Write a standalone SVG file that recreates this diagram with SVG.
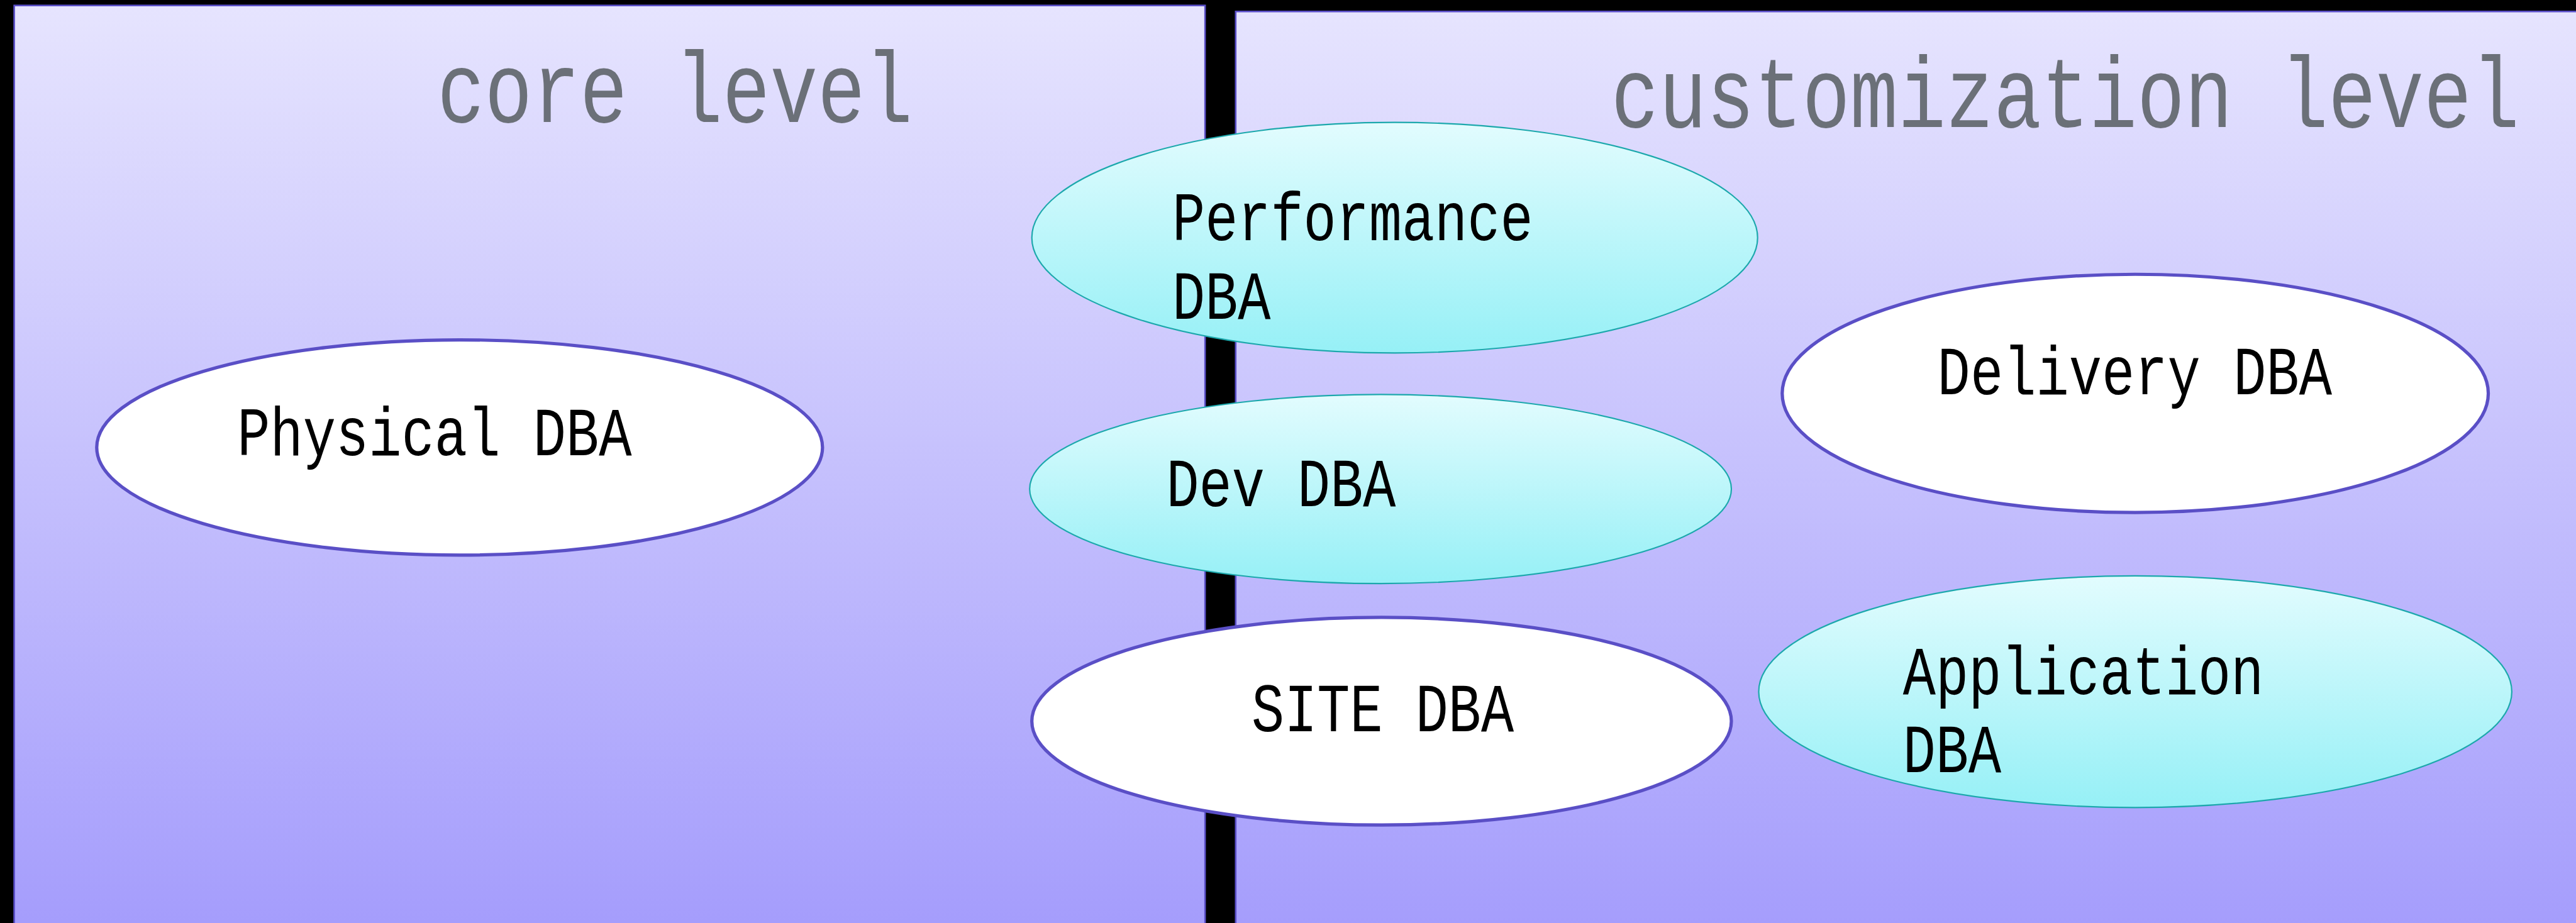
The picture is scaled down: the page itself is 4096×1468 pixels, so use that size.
<svg xmlns="http://www.w3.org/2000/svg" width="4096" height="1468" viewBox="0 0 4096 1468">
<style>
.panel{stroke:#5a4fc8;stroke-width:3;fill:url(#panelGrad)}
.white{fill:#ffffff;stroke:#5a4fc6;stroke-width:6}
.cyan{fill:url(#cyanGrad);stroke:#1ca8ac;stroke-width:2.5}
.title{font-family:"Liberation Mono",monospace;font-size:184px;fill:#6b7078}
.label{font-family:"Liberation Mono",monospace;font-size:126px;fill:#000000}
</style>
<defs>
<linearGradient id="panelGrad" x1="0" y1="0" x2="0" y2="1">
<stop offset="0" stop-color="#e6e4fe"/>
<stop offset="1" stop-color="#a49cfc"/>
</linearGradient>
<linearGradient id="cyanGrad" x1="0" y1="0" x2="0" y2="1">
<stop offset="0" stop-color="#e2fcfe"/>
<stop offset="1" stop-color="#96f0f6"/>
</linearGradient>
</defs>
<rect x="0" y="0" width="4096" height="1468" fill="#000000"/>
<g transform="scale(0.869)">
<g id="core-panel">
<rect class="panel" x="26" y="10" width="2179" height="1700"/>
<text class="title" x="800" y="223" textLength="870" lengthAdjust="spacingAndGlyphs">core level</text>
</g>
<g id="customization-panel">
<rect class="panel" x="2261" y="21" width="2470" height="1700"/>
<text class="title" x="2948" y="233" textLength="1662" lengthAdjust="spacingAndGlyphs">customization level</text>
</g>
<g id="connectors"></g>
<g id="physical-dba">
<ellipse class="white" cx="841" cy="819" rx="664" ry="197"/>
<text class="label" x="434" y="833" textLength="722" lengthAdjust="spacingAndGlyphs">Physical DBA</text>
</g>
<g id="performance-dba">
<ellipse class="cyan" cx="2552" cy="435" rx="664" ry="211"/>
<text class="label" x="2145" y="440" textLength="660" lengthAdjust="spacingAndGlyphs">Performance</text>
<text class="label" x="2145" y="583" textLength="180" lengthAdjust="spacingAndGlyphs">DBA</text>
</g>
<g id="dev-dba">
<ellipse class="cyan" cx="2526" cy="895" rx="642" ry="173"/>
<text class="label" x="2134" y="926" textLength="420" lengthAdjust="spacingAndGlyphs">Dev DBA</text>
</g>
<g id="site-dba">
<ellipse class="white" cx="2528" cy="1320" rx="640" ry="190"/>
<text class="label" x="2290" y="1338" textLength="480" lengthAdjust="spacingAndGlyphs">SITE DBA</text>
</g>
<g id="delivery-dba">
<ellipse class="white" cx="3907" cy="720" rx="646" ry="218"/>
<text class="label" x="3545" y="721" textLength="722" lengthAdjust="spacingAndGlyphs">Delivery DBA</text>
</g>
<g id="application-dba">
<ellipse class="cyan" cx="3907" cy="1266" rx="689" ry="212"/>
<text class="label" x="3482" y="1270" textLength="660" lengthAdjust="spacingAndGlyphs">Application</text>
<text class="label" x="3482" y="1413" textLength="180" lengthAdjust="spacingAndGlyphs">DBA</text>
</g>
</g>
</svg>
